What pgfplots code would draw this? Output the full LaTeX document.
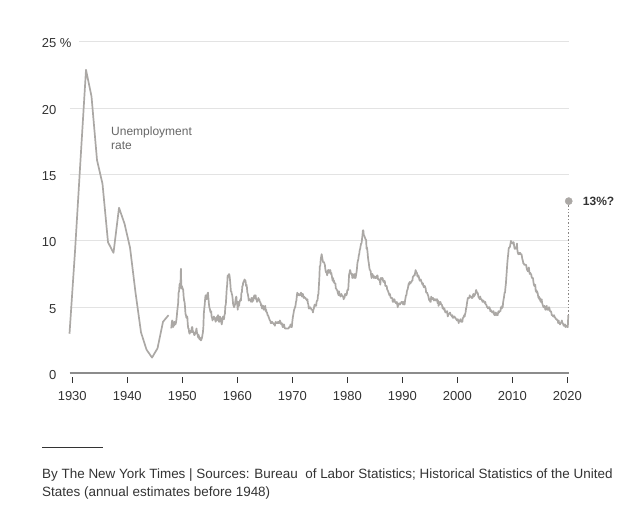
\documentclass[border=0pt]{standalone}
\usepackage{fontspec}
\setmainfont{Liberation Sans}
\usepackage{pgfplots}
\usepackage{pgfplotstable}
\pgfplotsset{compat=1.18}
\definecolor{linegray}{HTML}{ABA8A5}
\definecolor{gridgray}{HTML}{E3E3E3}
\definecolor{axisgray}{HTML}{8C8C8C}
\definecolor{txt}{HTML}{333333}
\definecolor{note}{HTML}{666666}

% annual estimates before 1948, plotted at mid-year
\pgfplotstableread{
year u
1929.5 3.0
1930.5 9.2
1931.5 16.1
1932.5 22.9
1933.5 20.9
1934.5 16.1
1935.5 14.3
1936.5 9.9
1937.5 9.1
1938.5 12.5
1939.5 11.3
1940.5 9.5
1941.5 6.1
1942.5 3.1
1943.5 1.8
1944.5 1.2
1945.5 1.9
1946.5 3.9
1947.5 4.4
}\annual

% monthly rate, January 1948 to March 2020
\pgfplotstableread[row sep=\\]{u\\
3.4\\3.8\\4.0\\3.9\\3.5\\3.6\\3.6\\3.9\\3.8\\3.7\\3.8\\4.0\\
4.3\\4.7\\5.0\\5.3\\6.1\\6.2\\6.7\\6.8\\6.6\\7.9\\6.4\\6.6\\
6.5\\6.4\\6.3\\5.8\\5.5\\5.4\\5.0\\4.5\\4.4\\4.2\\4.2\\4.3\\
3.7\\3.4\\3.4\\3.1\\3.0\\3.2\\3.1\\3.1\\3.3\\3.5\\3.5\\3.1\\
3.2\\3.1\\2.9\\2.9\\3.0\\3.0\\3.2\\3.4\\3.1\\3.0\\2.8\\2.7\\
2.9\\2.6\\2.6\\2.7\\2.5\\2.5\\2.6\\2.7\\2.9\\3.1\\3.5\\4.5\\
4.9\\5.2\\5.7\\5.9\\5.9\\5.6\\5.8\\6.0\\6.1\\5.7\\5.3\\5.0\\
4.9\\4.7\\4.6\\4.7\\4.3\\4.2\\4.0\\4.2\\4.1\\4.3\\4.2\\4.2\\
4.0\\3.9\\4.2\\4.0\\4.3\\4.3\\4.4\\4.1\\3.9\\3.9\\4.3\\4.2\\
4.2\\3.9\\3.7\\3.9\\4.1\\4.3\\4.2\\4.1\\4.4\\4.5\\5.1\\5.2\\
5.8\\6.4\\6.7\\7.4\\7.4\\7.3\\7.5\\7.4\\7.1\\6.7\\6.2\\6.2\\
6.0\\5.9\\5.6\\5.2\\5.1\\5.0\\5.1\\5.2\\5.5\\5.7\\5.8\\5.3\\
5.2\\4.8\\5.4\\5.2\\5.1\\5.4\\5.5\\5.6\\5.5\\6.1\\6.1\\6.6\\
6.6\\6.9\\6.9\\7.0\\7.1\\6.9\\7.0\\6.6\\6.7\\6.5\\6.1\\6.0\\
5.8\\5.5\\5.6\\5.6\\5.5\\5.5\\5.4\\5.7\\5.6\\5.4\\5.7\\5.5\\
5.7\\5.9\\5.7\\5.7\\5.9\\5.6\\5.6\\5.4\\5.5\\5.5\\5.7\\5.5\\
5.6\\5.4\\5.4\\5.3\\5.1\\5.2\\4.9\\5.0\\5.1\\5.1\\4.8\\5.0\\
4.9\\5.1\\4.7\\4.8\\4.6\\4.6\\4.4\\4.4\\4.3\\4.2\\4.1\\4.0\\
4.0\\3.8\\3.8\\3.8\\3.9\\3.8\\3.8\\3.8\\3.7\\3.7\\3.6\\3.8\\
3.9\\3.8\\3.8\\3.8\\3.8\\3.9\\3.8\\3.8\\3.8\\4.0\\3.9\\3.8\\
3.7\\3.8\\3.7\\3.5\\3.5\\3.7\\3.7\\3.5\\3.4\\3.4\\3.4\\3.4\\
3.4\\3.4\\3.4\\3.4\\3.4\\3.5\\3.5\\3.5\\3.7\\3.7\\3.5\\3.5\\
3.9\\4.2\\4.4\\4.6\\4.8\\4.9\\5.0\\5.1\\5.4\\5.5\\5.9\\6.1\\
5.9\\5.9\\6.0\\5.9\\5.9\\5.9\\6.0\\6.1\\6.0\\5.8\\6.0\\6.0\\
5.8\\5.7\\5.8\\5.7\\5.7\\5.7\\5.6\\5.6\\5.5\\5.6\\5.3\\5.2\\
4.9\\5.0\\4.9\\5.0\\4.9\\4.9\\4.8\\4.8\\4.8\\4.6\\4.8\\4.9\\
5.1\\5.2\\5.1\\5.1\\5.1\\5.4\\5.5\\5.5\\5.9\\6.0\\6.6\\7.2\\
8.1\\8.1\\8.6\\8.8\\9.0\\8.8\\8.6\\8.4\\8.4\\8.4\\8.3\\8.2\\
7.9\\7.7\\7.6\\7.7\\7.4\\7.6\\7.8\\7.8\\7.6\\7.7\\7.8\\7.8\\
7.5\\7.6\\7.4\\7.2\\7.0\\7.2\\6.9\\7.0\\6.8\\6.8\\6.8\\6.4\\
6.4\\6.3\\6.3\\6.1\\6.0\\5.9\\6.2\\5.9\\6.0\\5.8\\5.9\\6.0\\
5.9\\5.9\\5.8\\5.8\\5.6\\5.7\\5.7\\6.0\\5.9\\6.0\\5.9\\6.0\\
6.3\\6.3\\6.3\\6.9\\7.5\\7.6\\7.8\\7.7\\7.5\\7.5\\7.5\\7.2\\
7.5\\7.4\\7.4\\7.2\\7.5\\7.5\\7.2\\7.4\\7.6\\7.9\\8.3\\8.5\\
8.6\\8.9\\9.0\\9.3\\9.4\\9.6\\9.8\\9.8\\10.1\\10.4\\10.8\\10.8\\
10.4\\10.4\\10.3\\10.2\\10.1\\10.1\\9.4\\9.5\\9.2\\8.8\\8.5\\8.3\\
8.0\\7.8\\7.8\\7.7\\7.4\\7.2\\7.5\\7.5\\7.3\\7.4\\7.2\\7.3\\
7.3\\7.2\\7.2\\7.3\\7.2\\7.4\\7.4\\7.1\\7.1\\7.1\\7.0\\7.0\\
6.7\\7.2\\7.2\\7.1\\7.2\\7.2\\7.0\\6.9\\7.0\\7.0\\6.9\\6.6\\
6.6\\6.6\\6.6\\6.3\\6.3\\6.2\\6.1\\6.0\\5.9\\6.0\\5.8\\5.7\\
5.7\\5.7\\5.7\\5.4\\5.6\\5.4\\5.4\\5.6\\5.4\\5.4\\5.3\\5.3\\
5.4\\5.2\\5.0\\5.2\\5.2\\5.3\\5.2\\5.2\\5.3\\5.3\\5.4\\5.4\\
5.4\\5.3\\5.2\\5.4\\5.4\\5.2\\5.5\\5.7\\5.9\\5.9\\6.2\\6.3\\
6.4\\6.6\\6.8\\6.7\\6.9\\6.9\\6.8\\6.9\\6.9\\7.0\\7.0\\7.3\\
7.3\\7.4\\7.4\\7.4\\7.6\\7.8\\7.7\\7.6\\7.6\\7.3\\7.4\\7.4\\
7.3\\7.1\\7.0\\7.1\\7.1\\7.0\\6.9\\6.8\\6.7\\6.8\\6.6\\6.5\\
6.6\\6.6\\6.5\\6.4\\6.1\\6.1\\6.1\\6.0\\5.9\\5.8\\5.6\\5.5\\
5.6\\5.4\\5.4\\5.8\\5.6\\5.6\\5.7\\5.7\\5.6\\5.5\\5.6\\5.6\\
5.6\\5.5\\5.5\\5.6\\5.6\\5.3\\5.5\\5.1\\5.2\\5.2\\5.4\\5.4\\
5.3\\5.2\\5.2\\5.1\\4.9\\5.0\\4.9\\4.8\\4.9\\4.7\\4.6\\4.7\\
4.6\\4.6\\4.7\\4.3\\4.4\\4.5\\4.5\\4.5\\4.6\\4.5\\4.4\\4.4\\
4.3\\4.4\\4.2\\4.3\\4.2\\4.3\\4.3\\4.2\\4.2\\4.1\\4.1\\4.0\\
4.0\\4.1\\4.0\\3.8\\4.0\\4.0\\4.0\\4.1\\3.9\\3.9\\3.9\\3.9\\
4.2\\4.2\\4.3\\4.4\\4.3\\4.5\\4.6\\4.9\\5.0\\5.3\\5.5\\5.7\\
5.7\\5.7\\5.7\\5.9\\5.8\\5.8\\5.8\\5.7\\5.7\\5.7\\5.9\\6.0\\
5.8\\5.9\\5.9\\6.0\\6.1\\6.3\\6.2\\6.1\\6.1\\6.0\\5.8\\5.7\\
5.7\\5.6\\5.8\\5.6\\5.6\\5.6\\5.5\\5.4\\5.4\\5.5\\5.4\\5.4\\
5.3\\5.4\\5.2\\5.2\\5.1\\5.0\\5.0\\4.9\\5.0\\5.0\\5.0\\4.9\\
4.7\\4.8\\4.7\\4.7\\4.6\\4.6\\4.7\\4.7\\4.5\\4.4\\4.5\\4.4\\
4.6\\4.5\\4.4\\4.5\\4.4\\4.6\\4.7\\4.6\\4.7\\4.7\\4.7\\5.0\\
5.0\\4.9\\5.1\\5.0\\5.4\\5.6\\5.8\\6.1\\6.1\\6.5\\6.8\\7.3\\
7.8\\8.3\\8.7\\9.0\\9.4\\9.5\\9.5\\9.6\\9.8\\10.0\\9.9\\9.9\\
9.8\\9.8\\9.9\\9.9\\9.6\\9.4\\9.4\\9.5\\9.5\\9.4\\9.8\\9.3\\
9.1\\9.0\\9.0\\9.1\\9.0\\9.1\\9.0\\9.0\\9.0\\8.8\\8.6\\8.5\\
8.3\\8.3\\8.2\\8.2\\8.2\\8.2\\8.2\\8.0\\7.8\\7.8\\7.7\\7.9\\
8.0\\7.7\\7.5\\7.6\\7.5\\7.5\\7.3\\7.2\\7.2\\7.2\\6.9\\6.7\\
6.6\\6.7\\6.7\\6.2\\6.3\\6.1\\6.2\\6.1\\5.9\\5.7\\5.8\\5.6\\
5.7\\5.5\\5.4\\5.4\\5.6\\5.3\\5.2\\5.1\\5.0\\5.0\\5.1\\5.0\\
4.8\\4.9\\5.0\\5.1\\4.8\\4.9\\4.8\\4.9\\5.0\\4.9\\4.7\\4.7\\
4.7\\4.6\\4.4\\4.4\\4.4\\4.3\\4.3\\4.4\\4.3\\4.2\\4.2\\4.1\\
4.1\\4.1\\4.0\\4.0\\3.8\\4.0\\3.8\\3.8\\3.7\\3.8\\3.8\\3.9\\
4.0\\3.8\\3.8\\3.7\\3.6\\3.6\\3.7\\3.7\\3.5\\3.6\\3.6\\3.6\\
3.5\\3.5\\4.4\\
}\monthly

\begin{document}
\begin{tikzpicture}
\path[use as bounding box] (0,0) rectangle (640bp,515bp);
\begin{axis}[
    at={(69.5bp,141.5bp)}, anchor=south west,
    scale only axis,
    width=499.5bp, height=331.5bp,
    xmin=1929.5, xmax=2020.3,
    ymin=0, ymax=25,
    clip=false,
    axis x line*=bottom,
    axis y line*=left,
    x axis line style={line width=2bp, color=axisgray},
    y axis line style={draw=none},
    xtick={1930,1940,...,2020},
    ytick={0,5,10,15,20,25},
    yticklabels={0,5,10,15,20,25\rlap{ \%}},
    xticklabel={\pgfmathprintnumber[1000 sep={}]{\tick}},
    tick align=outside,
    major tick length=6bp,
    xtick style={color=txt, line width=0.9bp, yshift=-3.5bp},
    ytick style={draw=none},
    tick label style={font=\fontsize{13bp}{15bp}\selectfont, color=txt},
    xticklabel style={anchor=north, inner sep=0pt, yshift=-12bp},
    yticklabel style={anchor=east, inner sep=0pt, xshift=-7bp, yshift=-1.5bp},
    /pgf/number format/assume math mode=true,
]
% horizontal grid lines
\draw[gridgray, line width=1bp] (axis cs:1929.5,5) -- (axis cs:2020.3,5);
\draw[gridgray, line width=1bp] (axis cs:1929.5,10) -- (axis cs:2020.3,10);
\draw[gridgray, line width=1bp] (axis cs:1929.5,15) -- (axis cs:2020.3,15);
\draw[gridgray, line width=1bp] (axis cs:1929.5,20) -- (axis cs:2020.3,20);
\draw[gridgray, line width=1bp] (axis cs:1931.2,25) -- (axis cs:2020.3,25);

\addplot[color=linegray, line width=1.7bp, line join=round] table[x=year, y=u] {\annual};
\addplot[color=linegray, line width=1.7bp, line join=round] table[x expr=1948+\coordindex/12, y=u] {\monthly};

% the projected rate
\addplot[color=linegray!80!black, line width=1.4bp, dotted] coordinates {(2020.25,4.4) (2020.25,13)};
\addplot[only marks, mark=*, mark size=3.6bp, color=linegray, draw=none] coordinates {(2020.25,13)};

\node[anchor=west, font=\fontsize{12bp}{14bp}\selectfont\bfseries, color=txt, inner sep=0pt]
    at (axis cs:2022.8,13) {13\%?};
\node[anchor=north west, align=left, font=\fontsize{12bp}{13.3bp}\selectfont, color=note, inner sep=0pt]
    at (axis cs:1937.05,18.6) {Unemployment\\rate};
\end{axis}

\draw[txt, line width=0.8bp] (42bp,68bp) -- (102.5bp,68bp);
\node[anchor=base west, inner sep=0pt, font=\fontsize{13.45bp}{18bp}\selectfont, color=txt]
    at (42bp,36.7bp) {By The New York Times | Sources: Bureau\ \ of Labor Statistics; Historical Statistics of the United};
\node[anchor=base west, inner sep=0pt, font=\fontsize{13.45bp}{18bp}\selectfont, color=txt]
    at (42bp,19bp) {States (annual estimates before 1948)};
\end{tikzpicture}
\end{document}
